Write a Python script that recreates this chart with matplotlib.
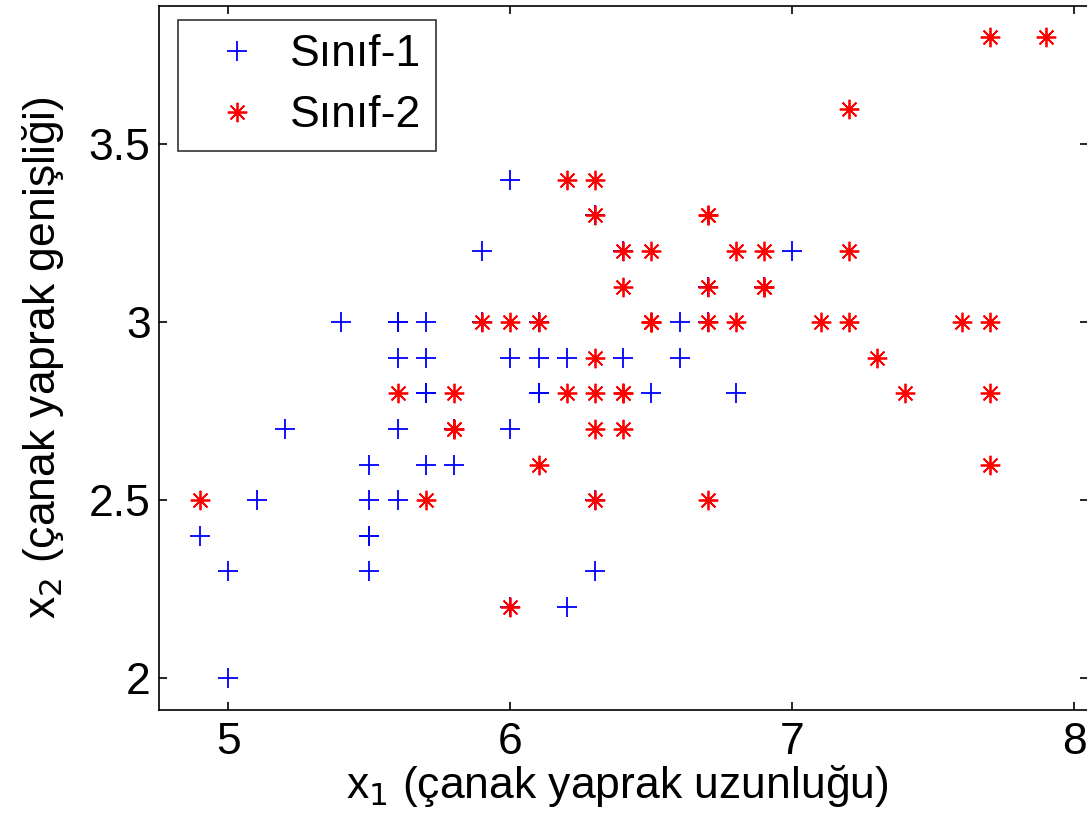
import numpy as np
import matplotlib.pyplot as plt
from matplotlib.ticker import FixedLocator

plt.rcParams['font.family'] = ['Liberation Sans', 'DejaVu Sans']

# Sınıf-1: çanak yaprak uzunluğu / genişliği
sinif1_x1 = [7.0, 6.4, 6.9, 5.5, 6.5, 5.7, 6.3, 4.9, 6.6, 5.2,
             5.0, 5.9, 6.0, 6.1, 5.6, 6.7, 5.6, 5.8, 6.2, 5.6,
             5.9, 6.1, 6.3, 6.1, 6.4, 6.6, 6.8, 6.7, 6.0, 5.7,
             5.5, 5.5, 5.8, 6.0, 5.4, 6.0, 6.7, 6.3, 5.6, 5.5,
             5.5, 6.1, 5.8, 5.0, 5.6, 5.7, 5.7, 6.2, 5.1, 5.7]
sinif1_x2 = [3.2, 3.2, 3.1, 2.3, 2.8, 2.8, 3.3, 2.4, 2.9, 2.7,
             2.0, 3.0, 2.2, 2.9, 2.9, 3.1, 3.0, 2.7, 2.2, 2.5,
             3.2, 2.8, 2.5, 2.8, 2.9, 3.0, 2.8, 3.0, 2.9, 2.6,
             2.4, 2.4, 2.7, 2.7, 3.0, 3.4, 3.1, 2.3, 3.0, 2.5,
             2.6, 3.0, 2.6, 2.3, 2.7, 3.0, 2.9, 2.9, 2.5, 2.8]

# Sınıf-2
sinif2_x1 = [6.3, 5.8, 7.1, 6.3, 6.5, 7.6, 4.9, 7.3, 6.7, 7.2,
             6.5, 6.4, 6.8, 5.7, 5.8, 6.4, 6.5, 7.7, 7.7, 6.0,
             6.9, 5.6, 7.7, 6.3, 6.7, 7.2, 6.2, 6.1, 6.4, 7.2,
             7.4, 7.9, 6.4, 6.3, 6.1, 7.7, 6.3, 6.4, 6.0, 6.9,
             6.7, 6.9, 5.8, 6.8, 6.7, 6.7, 6.3, 6.5, 6.2, 5.9]
sinif2_x2 = [3.3, 2.7, 3.0, 2.9, 3.0, 3.0, 2.5, 2.9, 2.5, 3.6,
             3.2, 2.7, 3.0, 2.5, 2.8, 3.2, 3.0, 3.8, 2.6, 2.2,
             3.2, 2.8, 2.8, 2.7, 3.3, 3.2, 2.8, 3.0, 2.8, 3.0,
             2.8, 3.8, 2.8, 2.8, 2.6, 3.0, 3.4, 3.1, 3.0, 3.1,
             3.1, 3.1, 2.7, 3.2, 3.3, 3.0, 2.5, 3.0, 3.4, 3.0]

x_ticks = [5, 6, 7, 8]
y_ticks = [2, 2.5, 3, 3.5]
y_tick_labels = ['2', '2.5', '3', '3.5']

fig = plt.figure(figsize=(10.87, 8.34), dpi=100)
# right edge sits just past the canvas, like the cropped MATLAB export
ax = fig.add_axes([0.1463, 0.1487, 0.8550, 0.8441])

# MATLAB-style asterisk: 8 arms
asterisk = (8, 2, 0)
ax.plot(sinif1_x1, sinif1_x2, linestyle='none', marker='+', color='blue',
        markersize=14, markeredgewidth=1.3, label='Sınıf-1')
ax.plot(sinif2_x1, sinif2_x2, linestyle='none', marker=asterisk, color='red',
        markersize=14, markeredgewidth=1.3, label='Sınıf-2')

ax.set_xlim(4.754, 8.05)
ax.set_ylim(1.911, 3.888)
ax.xaxis.set_major_locator(FixedLocator(x_ticks))
ax.set_yticks(y_ticks)
ax.set_yticklabels(y_tick_labels)

ax.tick_params(direction='in', length=6, width=1.2, top=True, right=True,
               labelsize=32, colors='black')
ax.tick_params(axis='x', pad=9)
ax.tick_params(axis='y', pad=6)
for s in ax.spines.values():
    s.set_linewidth(1.2)

ax.set_xlabel('x$_1$ (çanak yaprak uzunluğu)', fontsize=32)
ax.set_ylabel('x$_2$ (çanak yaprak genişliği)', fontsize=32)
ax.xaxis.set_label_coords(0.4935, -0.075)
ax.yaxis.set_label_coords(-0.100, 0.5)

leg = ax.legend(loc='upper left', fontsize=32, frameon=True, fancybox=False,
                edgecolor='black', handlelength=2.0, handletextpad=0.2,
                borderpad=0.32, labelspacing=0.45, borderaxespad=0,
                bbox_to_anchor=(0.0205, 0.980))
leg.get_frame().set_linewidth(1.2)

fig.savefig('out.png', dpi=100)
